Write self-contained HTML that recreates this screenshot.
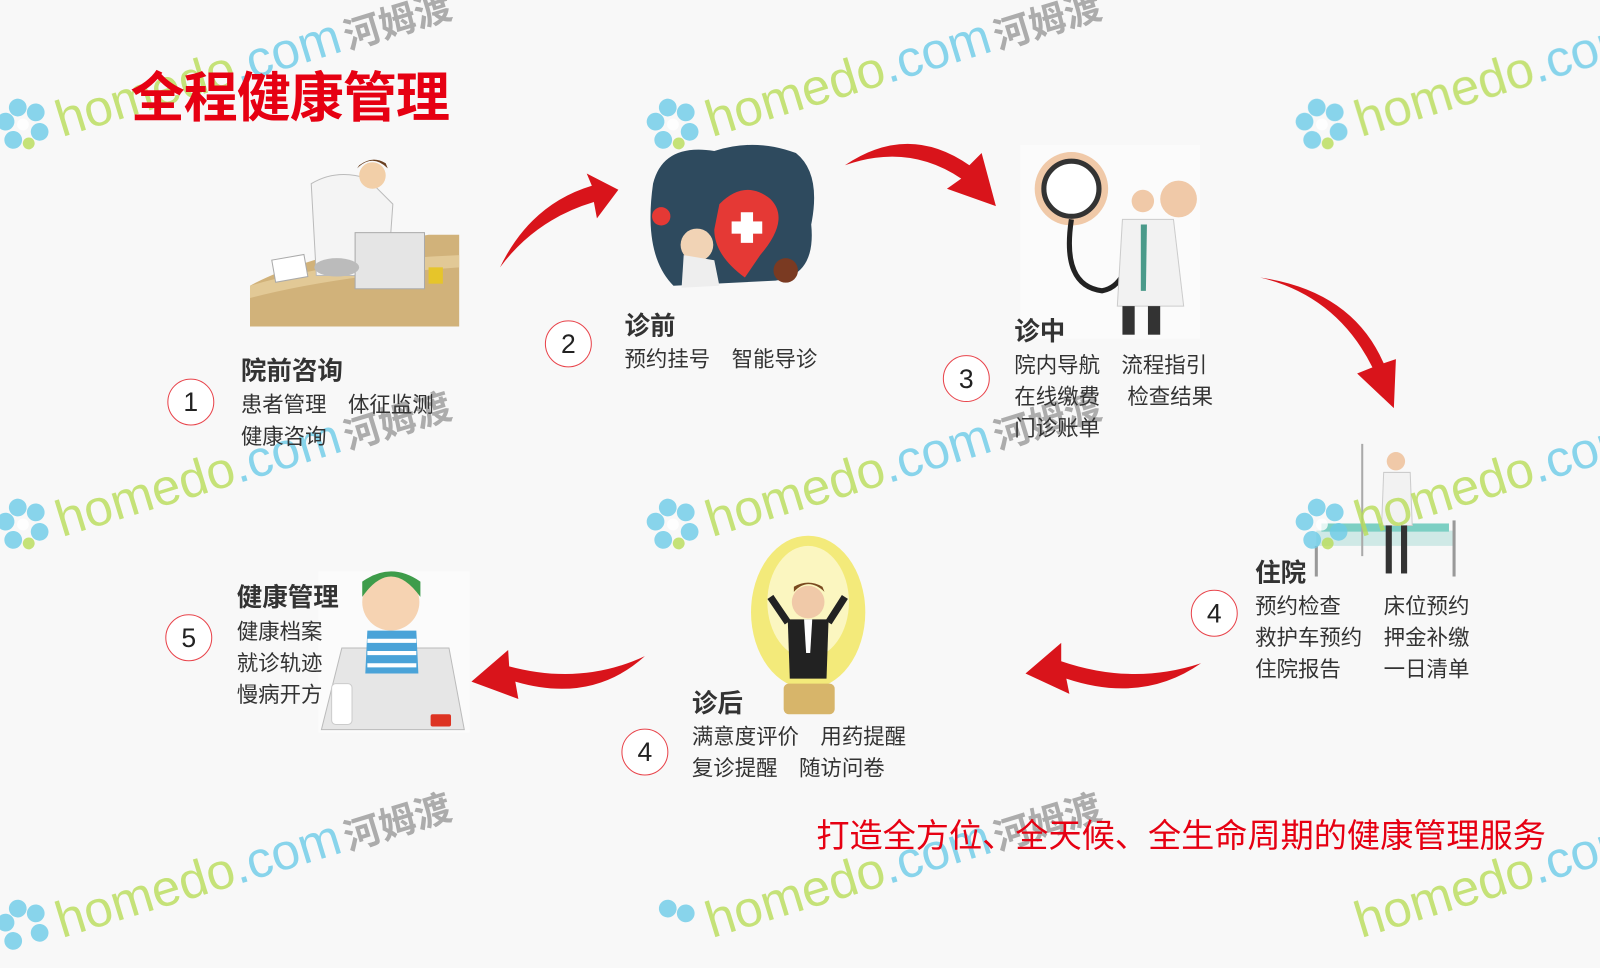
<!DOCTYPE html>
<html><head><meta charset="utf-8"><style>
html,body{margin:0;padding:0;width:1600px;height:900px;overflow:hidden;background:#f8f8f8}
#s{position:absolute;left:0;top:0;width:1568px;height:882px;transform:scale(1.0204);transform-origin:0 0;font-family:"Liberation Sans","Noto Sans CJK SC",sans-serif}
.t{position:absolute;color:#333;font-size:21px;line-height:31px;white-space:nowrap}
.h{position:absolute;color:#333;font-size:25px;font-weight:bold;white-space:nowrap}
.c{position:absolute;width:46px;height:46px;border:1.5px solid #e8434a;border-radius:50%;box-sizing:border-box;text-align:center;line-height:44px;font-size:26px;color:#222;background:#fff}
.wm{position:absolute;transform:rotate(-17deg);transform-origin:0 100%;white-space:nowrap;opacity:.8}
.wm .hd{font-size:50px;color:#b8dc58;font-family:"Liberation Sans",sans-serif}
.wm .hm{font-size:36px;color:#999;font-weight:bold;font-family:"Noto Sans CJK SC",sans-serif}
.fl{display:inline-block;width:58px;height:58px;vertical-align:-6px;margin-right:4px}
</style></head><body><div id="s">

<svg width="1568" height="882" style="position:absolute;left:0;top:0">
 <path d="M245 280 Q300 250 420 230 L450 230 L450 320 L245 320Z" fill="#d1b27a"/>
 <path d="M245 280 Q330 255 450 250 L450 262 Q330 270 245 292Z" fill="#e2c996"/>
 <path d="M305 180 Q330 165 360 175 L385 200 L380 270 L310 270Z" fill="#f4f4f4" stroke="#bbb"/>
 <circle cx="365" cy="172" r="13" fill="#f2cfa8"/><path d="M350 165 Q365 150 380 165 L378 160 Q365 152 352 162Z" fill="#6a4020"/>
 <rect x="348" y="228" width="68" height="55" fill="#e5e5e5" stroke="#aaa"/>
 <ellipse cx="330" cy="262" rx="22" ry="9" fill="#bbb"/>
 <rect x="268" y="252" width="32" height="22" fill="#fff" stroke="#aaa" transform="rotate(-10 284 263)"/>
 <rect x="420" y="262" width="14" height="16" fill="#e6c52a"/>
 <path d="M640 180 Q650 140 700 148 Q740 135 780 150 Q805 170 795 220 Q800 270 760 275 L660 280 Q630 250 640 180Z" fill="#2e4a5e"/>
 <path d="M705 200 Q730 175 755 195 Q775 215 745 250 L730 272 Q700 250 700 225Z" fill="#e53935"/>
 <rect x="726" y="208" width="12" height="30" fill="#fff"/><rect x="717" y="217" width="30" height="12" fill="#fff"/>
 <circle cx="683" cy="240" r="16" fill="#f1d3b5"/><path d="M670 250 L700 255 L705 280 L668 282Z" fill="#eee"/>
 <circle cx="648" cy="212" r="9" fill="#e53935"/>
 <circle cx="770" cy="265" r="12" fill="#7a3a22"/>
 <rect x="1000" y="142" width="176" height="190" fill="#fbfbfb"/>
 <circle cx="1050" cy="185" r="36" fill="#f0c9a8"/><circle cx="1050" cy="185" r="27" fill="#fff" stroke="#333" stroke-width="5"/>
 <path d="M1050 215 Q1040 280 1080 285 Q1110 280 1110 215" fill="none" stroke="#222" stroke-width="5"/>
 <path d="M1100 215 L1150 215 L1160 300 L1095 300Z" fill="#f2f2f2" stroke="#ccc"/>
 <circle cx="1120" cy="197" r="11" fill="#f0c9a8"/><path d="M1118 220 L1124 220 L1123 285 L1118 285Z" fill="#4a9a8a"/>
 <rect x="1100" y="300" width="12" height="28" fill="#333"/><rect x="1125" y="300" width="12" height="28" fill="#333"/>
 <circle cx="1155" cy="195" r="18" fill="#f0c9a8"/>
 <path d="M1290 520 L1425 520 L1425 535 L1290 535Z" fill="#cfe9e6"/>
 <rect x="1295" y="513" width="125" height="8" fill="#7ccfc3"/>
 <line x1="1290" y1="535" x2="1290" y2="565" stroke="#999" stroke-width="3"/><line x1="1425" y1="510" x2="1425" y2="565" stroke="#999" stroke-width="3"/>
 <line x1="1335" y1="435" x2="1335" y2="545" stroke="#aaa" stroke-width="2"/>
 <circle cx="1368" cy="452" r="9" fill="#f0c9a8"/><path d="M1356 463 L1382 463 L1384 515 L1354 515Z" fill="#f2f2f2" stroke="#ccc"/>
 <rect x="1358" y="515" width="6" height="47" fill="#333"/><rect x="1373" y="515" width="6" height="47" fill="#333"/>
 <ellipse cx="792" cy="600" rx="56" ry="75" fill="#f3ea7a"/>
 <ellipse cx="792" cy="590" rx="40" ry="55" fill="#fbf6c0"/>
 <rect x="768" y="670" width="50" height="30" fill="#d7b56a" rx="5"/>
 <circle cx="792" cy="590" r="16" fill="#f0c9a8"/><path d="M778 580 Q792 565 808 580 L806 575 Q792 567 778 575Z" fill="#7a4a20"/>
 <path d="M772 607 L812 607 L810 665 L774 665Z" fill="#222"/><path d="M788 607 L796 607 L794 640 L790 640Z" fill="#fff"/>
 <path d="M772 610 L755 585 M812 610 L828 585" stroke="#222" stroke-width="7"/>
 <rect x="312" y="560" width="148" height="158" fill="#fbfbfb"/>
 <path d="M335 635 L440 635 L455 715 L315 715Z" fill="#e6e6e6" stroke="#bbb"/>
 <circle cx="383" cy="590" r="28" fill="#f6d3b2"/><path d="M355 585 Q383 545 412 585 L412 570 Q383 550 355 570Z" fill="#3e9c4a"/>
 <path d="M360 618 L408 618 L410 660 L358 660Z" fill="#4aa3d8"/><path d="M360 628 L408 628 M360 640 L408 640 M360 652 L408 652" stroke="#fff" stroke-width="4"/>
 <rect x="422" y="700" width="20" height="12" fill="#d32" rx="2"/>
 <rect x="325" y="670" width="20" height="40" fill="#fff" stroke="#ccc" rx="4"/>
 <g fill="#d9141b">
  <path d="M490 262 Q520 200 580 182 L575 170 L606 186 L585 214 L582 198 Q525 215 490 262Z"/>
  <path d="M828 162 Q890 120 950 162 L962 150 L976 202 L928 185 L942 175 Q890 140 828 162Z"/>
  <path d="M1235 272 Q1310 290 1345 360 L1330 366 L1366 400 L1368 352 L1356 356 Q1325 285 1235 272Z"/>
  <path d="M1177 650 Q1120 690 1045 665 L1048 680 L1005 660 L1040 630 L1040 648 Q1110 672 1177 650Z"/>
  <path d="M632 643 Q580 690 505 668 L508 685 L462 668 L498 637 L499 653 Q570 672 632 643Z"/>
 </g>
</svg>

<div class="wm" style="left:5px;top:100px"><svg class="fl" viewBox="0 0 60 60"><g fill="#6ccbe8"><circle cx="30" cy="12" r="9"/><circle cx="46" cy="22" r="9"/><circle cx="44" cy="42" r="9"/><circle cx="16" cy="42" r="9"/><circle cx="14" cy="22" r="9"/></g><circle cx="30" cy="50" r="6" fill="#b8dc58"/><circle cx="30" cy="30" r="6" fill="#fff"/></svg><span class="hd">homedo</span><span class="hd" style="color:#6ccbe8">.com</span> <span class="hm">河姆渡</span></div>
<div class="wm" style="left:642px;top:100px"><svg class="fl" viewBox="0 0 60 60"><g fill="#6ccbe8"><circle cx="30" cy="12" r="9"/><circle cx="46" cy="22" r="9"/><circle cx="44" cy="42" r="9"/><circle cx="16" cy="42" r="9"/><circle cx="14" cy="22" r="9"/></g><circle cx="30" cy="50" r="6" fill="#b8dc58"/><circle cx="30" cy="30" r="6" fill="#fff"/></svg><span class="hd">homedo</span><span class="hd" style="color:#6ccbe8">.com</span> <span class="hm">河姆渡</span></div>
<div class="wm" style="left:1278px;top:100px"><svg class="fl" viewBox="0 0 60 60"><g fill="#6ccbe8"><circle cx="30" cy="12" r="9"/><circle cx="46" cy="22" r="9"/><circle cx="44" cy="42" r="9"/><circle cx="16" cy="42" r="9"/><circle cx="14" cy="22" r="9"/></g><circle cx="30" cy="50" r="6" fill="#b8dc58"/><circle cx="30" cy="30" r="6" fill="#fff"/></svg><span class="hd">homedo</span><span class="hd" style="color:#6ccbe8">.com</span> <span class="hm">河姆渡</span></div>
<div class="wm" style="left:5px;top:492px"><svg class="fl" viewBox="0 0 60 60"><g fill="#6ccbe8"><circle cx="30" cy="12" r="9"/><circle cx="46" cy="22" r="9"/><circle cx="44" cy="42" r="9"/><circle cx="16" cy="42" r="9"/><circle cx="14" cy="22" r="9"/></g><circle cx="30" cy="50" r="6" fill="#b8dc58"/><circle cx="30" cy="30" r="6" fill="#fff"/></svg><span class="hd">homedo</span><span class="hd" style="color:#6ccbe8">.com</span> <span class="hm">河姆渡</span></div>
<div class="wm" style="left:642px;top:492px"><svg class="fl" viewBox="0 0 60 60"><g fill="#6ccbe8"><circle cx="30" cy="12" r="9"/><circle cx="46" cy="22" r="9"/><circle cx="44" cy="42" r="9"/><circle cx="16" cy="42" r="9"/><circle cx="14" cy="22" r="9"/></g><circle cx="30" cy="50" r="6" fill="#b8dc58"/><circle cx="30" cy="30" r="6" fill="#fff"/></svg><span class="hd">homedo</span><span class="hd" style="color:#6ccbe8">.com</span> <span class="hm">河姆渡</span></div>
<div class="wm" style="left:1278px;top:492px"><svg class="fl" viewBox="0 0 60 60"><g fill="#6ccbe8"><circle cx="30" cy="12" r="9"/><circle cx="46" cy="22" r="9"/><circle cx="44" cy="42" r="9"/><circle cx="16" cy="42" r="9"/><circle cx="14" cy="22" r="9"/></g><circle cx="30" cy="50" r="6" fill="#b8dc58"/><circle cx="30" cy="30" r="6" fill="#fff"/></svg><span class="hd">homedo</span><span class="hd" style="color:#6ccbe8">.com</span> <span class="hm">河姆渡</span></div>
<div class="wm" style="left:5px;top:885px"><svg class="fl" viewBox="0 0 60 60"><g fill="#6ccbe8"><circle cx="30" cy="12" r="9"/><circle cx="46" cy="22" r="9"/><circle cx="44" cy="42" r="9"/><circle cx="16" cy="42" r="9"/><circle cx="14" cy="22" r="9"/></g></svg><span class="hd">homedo</span><span class="hd" style="color:#6ccbe8">.com</span> <span class="hm">河姆渡</span></div>
<div class="wm" style="left:642px;top:885px"><svg class="fl" viewBox="0 0 60 60"><g fill="#6ccbe8"><circle cx="30" cy="12" r="9"/><circle cx="46" cy="22" r="9"/></g></svg><span class="hd">homedo</span><span class="hd" style="color:#6ccbe8">.com</span> <span class="hm">河姆渡</span></div>
<div class="wm" style="left:1278px;top:885px"><svg class="fl" viewBox="0 0 60 60"></svg><span class="hd">homedo</span><span class="hd" style="color:#6ccbe8">.com</span></div>

<div style="position:absolute;left:128px;top:54px;font-size:53px;font-weight:bold;color:#e60012;letter-spacing:-1px;font-family:'Noto Sans CJK SC',sans-serif">全程健康管理</div>

<div class="c" style="left:164px;top:371px">1</div>
<div class="h" style="left:236px;top:344px">院前咨询</div>
<div class="t" style="left:236px;top:382px">患者管理　体征监测<br>健康咨询</div>

<div class="c" style="left:534px;top:314px">2</div>
<div class="h" style="left:612px;top:300px">诊前</div>
<div class="t" style="left:612px;top:337px">预约挂号　智能导诊</div>

<div class="c" style="left:924px;top:348px">3</div>
<div class="h" style="left:994px;top:305px">诊中</div>
<div class="t" style="left:994px;top:343px">院内导航　流程指引<br>在线缴费　 检查结果<br>门诊账单</div>

<div class="c" style="left:1167px;top:578px">4</div>
<div class="h" style="left:1230px;top:542px">住院</div>
<div class="t" style="left:1230px;top:579px">预约检查　　床位预约<br>救护车预约　押金补缴<br>住院报告　　一日清单</div>

<div class="c" style="left:162px;top:602px">5</div>
<div class="h" style="left:232px;top:566px">健康管理</div>
<div class="t" style="left:232px;top:604px">健康档案<br>就诊轨迹<br>慢病开方</div>

<div class="c" style="left:609px;top:714px">4</div>
<div class="h" style="left:678px;top:670px">诊后</div>
<div class="t" style="left:678px;top:707px">满意度评价　用药提醒<br>复诊提醒　随访问卷</div>

<div style="position:absolute;left:800px;top:793px;font-size:32.5px;color:#e60012;white-space:nowrap">打造全方位、全天候、全生命周期的健康管理服务</div>
</div></body></html>
